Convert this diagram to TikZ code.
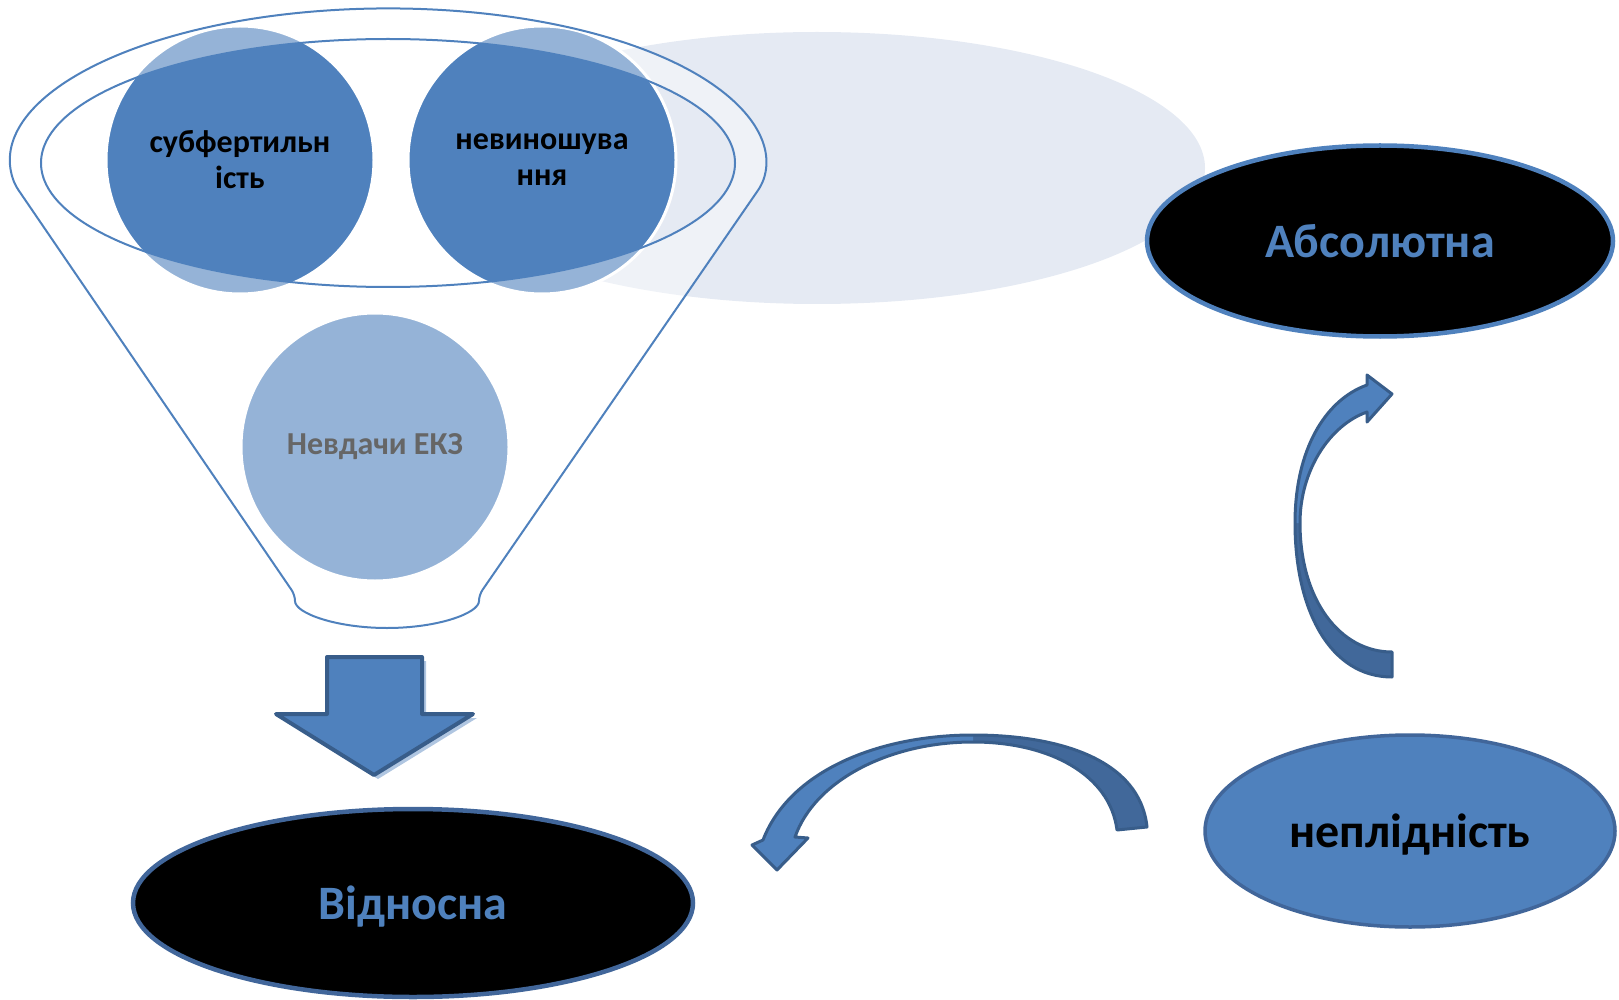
\documentclass[tikz,border=0pt]{standalone}
\usepackage{fontspec}
\setmainfont{Carlito}
\usetikzlibrary{shapes.geometric}
\definecolor{ofblue}{HTML}{4F81BD}
\definecolor{ofdark}{HTML}{385D8A}
\definecolor{ofshade}{HTML}{41689A}
\definecolor{ofpale}{HTML}{E5EAF3}
\definecolor{ofrim}{HTML}{41669A}

\begin{document}
\begin{tikzpicture}[x=1pt,y=-1pt,
  ball/.style={circle,fill=ofblue,draw=white,line width=3pt,minimum size=268pt,inner sep=0pt,align=center,font=\bfseries\fontsize{32}{36}\selectfont},
  oval/.style={ellipse,inner sep=0pt,line width=4.5pt,text depth=0pt,font=\bfseries\fontsize{48}{56}\selectfont},
  rim/.style={draw=ofblue,line width=2pt},
  ribbon/.style={draw=ofdark,line width=3pt,line join=round}]
\useasboundingbox (0,0) rectangle (1619,1000);
\fill[ofpale] (817,168) ellipse[x radius=388pt,y radius=136pt];
\node[ball] (subf) at (240,160) {субфертильн\\ість};
\node[ball] (nevy) at (542,160) {невиношува\\ння};
\node[ball] (ekz) at (375,447) {Невдачи ЕКЗ};
\path[rim,fill=white,fill opacity=0.4,even odd rule,rounded corners=6pt]
  (15,185) arc[start angle=188,end angle=-8,x radius=377pt,y radius=155pt]
  -- (479,595) arc[start angle=0,end angle=-180,x radius=92pt,y radius=33pt] -- cycle
  (388,163) ellipse[x radius=347pt,y radius=124pt];
\fill[ofblue!45] (331,661) -- (426,661) -- (426,718) -- (477,718) -- (378,779) -- (280,718) -- (331,718) -- cycle;
\draw[ribbon,line width=4pt,fill=ofblue] (327,657) -- (422,657) -- (422,714) -- (473,714) -- (374,775) -- (276,714) -- (327,714) -- cycle;
\node[oval,fill=black,draw=ofblue,text=ofblue,minimum width=466pt,minimum height=191pt] (abs) at (1380,241) {Абсолютна};
\node[oval,fill=black,draw=ofrim,text=ofblue,minimum width=560pt,minimum height=188pt] (vid) at (413,903) {Відносна};
\node[oval,fill=ofblue,draw=ofrim,line width=3.5pt,minimum width=410pt,minimum height=192pt] (nepl) at (1410,831) {неплідність};
\fill[ofshade] (1295,523) .. controls (1295,610) and (1330,677) .. (1392,677) -- (1392,652) .. controls (1340,652) and (1300,600) .. (1300,523) -- cycle;
\fill[ofblue] (1295,523) .. controls (1295,450) and (1325,400) .. (1367,385) -- (1367,375) -- (1392,394) -- (1367,422) -- (1367,412) .. controls (1330,425) and (1300,470) .. (1300,523) -- cycle;
\draw[ribbon] (1392,677) .. controls (1330,677) and (1295,610) .. (1295,523) .. controls (1295,450) and (1325,400) .. (1367,385) -- (1367,375) -- (1392,394) -- (1367,422) -- (1367,412) .. controls (1330,425) and (1300,470) .. (1300,523) .. controls (1300,600) and (1340,652) .. (1392,652) -- cycle;
\fill[ofshade] (1147,827) .. controls (1140,760) and (1060,735) .. (973,735) -- (973,742) .. controls (1050,742) and (1110,775) .. (1117,830) -- cycle;
\fill[ofblue] (973,735) .. controls (880,735) and (790,770) .. (763,840) -- (752,845) -- (777,870) -- (808,838) -- (795,837) .. controls (815,780) and (890,742) .. (973,742) -- cycle;
\draw[ribbon] (1147,827) .. controls (1140,760) and (1060,735) .. (973,735) .. controls (880,735) and (790,770) .. (763,840) -- (752,845) -- (777,870) -- (808,838) -- (795,837) .. controls (815,780) and (890,742) .. (973,742) .. controls (1050,742) and (1110,775) .. (1117,830) -- cycle;
\end{tikzpicture}
\end{document}
